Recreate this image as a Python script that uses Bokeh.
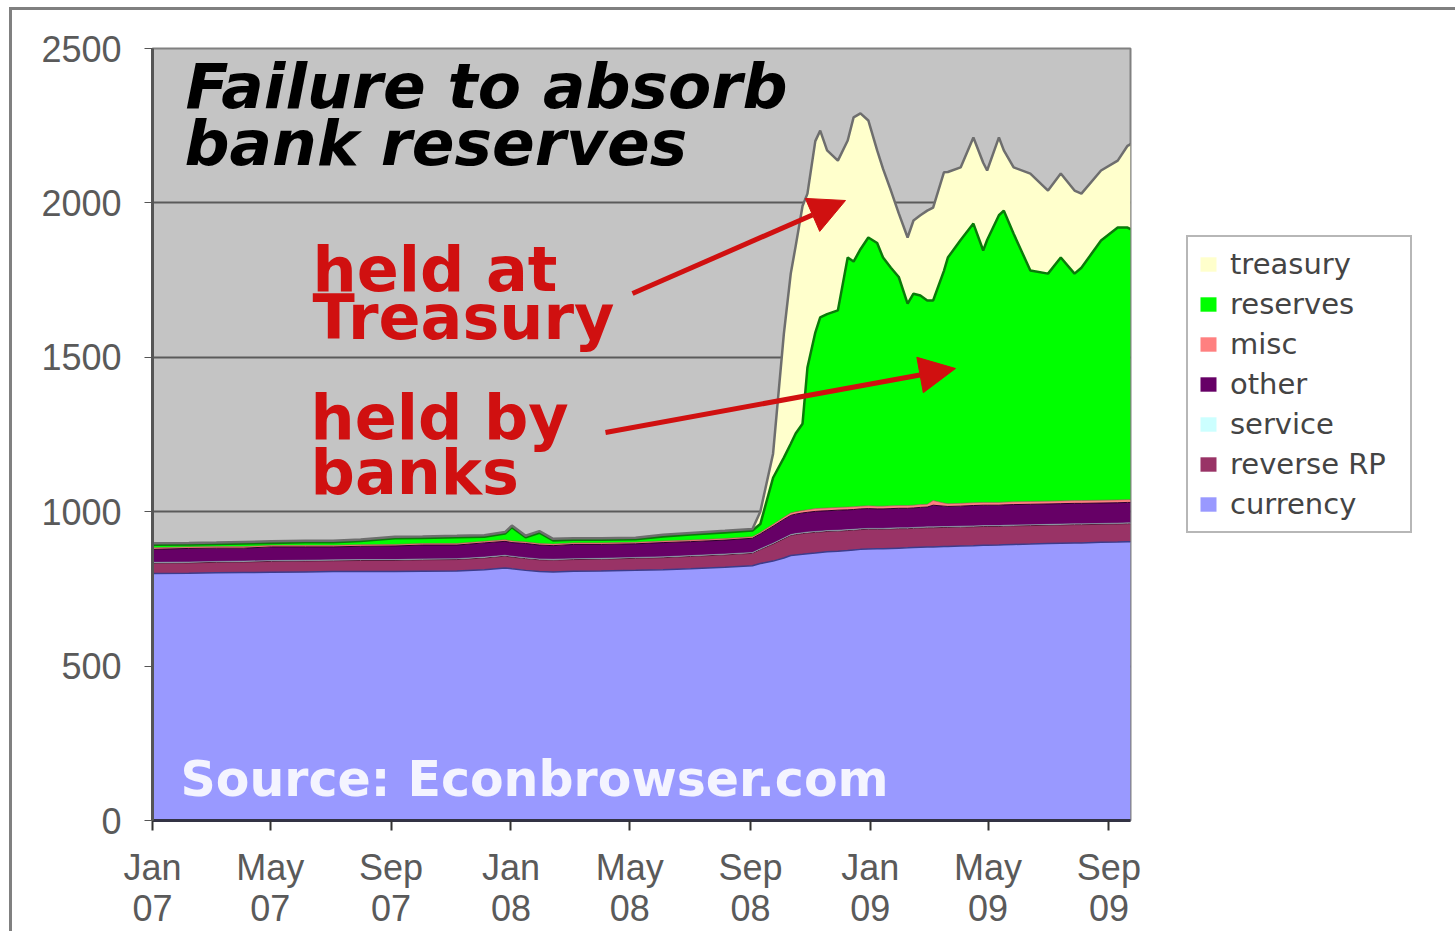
import pandas as pd
from bokeh.plotting import figure
from bokeh.models import (ColumnDataSource, Range1d, FixedTicker, Label, Arrow,
                          NormalHead, Legend, LegendItem)
from bokeh.transform import stack
from bokeh.embed import file_html
from bokeh.resources import INLINE

# ---------------- data (billions of $) ----------------
dates = [
    "2007-01-01", "2007-02-07", "2007-03-07", "2007-04-04", "2007-05-02", "2007-06-06",
    "2007-07-04", "2007-08-01", "2007-09-05", "2007-10-03", "2007-11-07", "2007-12-05",
    "2007-12-26", "2008-01-02", "2008-01-16", "2008-01-30", "2008-02-13", "2008-03-05",
    "2008-04-02", "2008-05-07", "2008-06-04", "2008-07-02", "2008-08-06", "2008-09-03",
    "2008-09-11", "2008-09-24", "2008-10-05", "2008-10-12", "2008-10-17", "2008-10-24",
    "2008-10-29", "2008-11-06", "2008-11-11", "2008-11-18", "2008-11-29", "2008-12-09",
    "2008-12-15", "2008-12-22", "2008-12-30", "2009-01-08", "2009-01-14", "2009-01-22",
    "2009-01-30", "2009-02-08", "2009-02-14", "2009-02-21", "2009-02-28", "2009-03-06",
    "2009-03-17", "2009-03-21", "2009-04-03", "2009-04-16", "2009-04-26", "2009-04-30",
    "2009-05-12", "2009-05-17", "2009-05-27", "2009-06-13", "2009-07-01", "2009-07-14",
    "2009-07-28", "2009-08-04", "2009-08-24", "2009-09-10", "2009-09-20", "2009-09-23",
]
currency = [
    800, 801, 802, 803, 804, 805, 806, 806, 806, 807, 808, 812,
    818, 815, 810, 806, 805, 807, 808, 810, 812, 815, 820, 825,
    832, 840, 850, 858, 860, 862, 864, 866, 868, 870, 872, 874,
    876, 878, 879, 880, 880, 881, 882, 883, 884, 885, 886, 886,
    887, 887, 889, 890, 891, 891, 892, 893, 894, 895, 897, 898,
    899, 899, 901, 902, 903, 903,
]
reverse_rp = [
    33, 33, 34, 34, 35, 35, 35, 36, 36, 37, 37, 38,
    38, 38, 38, 38, 38, 38, 38, 39, 39, 40, 40, 40,
    45, 55, 62, 65, 66, 67, 67, 67, 66, 66, 65, 65,
    64, 64, 64, 63, 63, 63, 63, 62, 62, 62, 62, 62,
    62, 62, 61, 61, 61, 61, 60, 60, 60, 60, 59, 59,
    59, 59, 58, 58, 58, 58,
]
service = [3] * 66
other = [
    42, 44, 43, 42, 44, 43, 42, 43, 44, 45, 44, 46,
    45, 44, 46, 45, 44, 46, 45, 44, 46, 45, 45, 46,
    48, 55, 60, 62, 63, 64, 64, 65, 65, 64, 65, 64,
    64, 64, 64, 63, 63, 63, 63, 63, 63, 64, 64, 70,
    66, 65, 65, 66, 66, 66, 66, 66, 66, 66, 66, 66,
    66, 66, 66, 66, 66, 66,
]
misc = [
    5, 5, 5, 5, 5, 5, 5, 5, 5, 5, 5, 5,
    5, 5, 5, 5, 5, 5, 5, 5, 5, 5, 5, 5,
    5, 6, 7, 8, 8, 8, 8, 9, 9, 9, 9, 9,
    9, 9, 9, 9, 9, 9, 9, 9, 9, 9, 9, 15,
    10, 9, 9, 9, 9, 9, 9, 9, 9, 9, 9, 9,
    9, 9, 9, 9, 9, 9,
]
reserves = [
    10, 8, 8, 10, 8, 10, 10, 12, 20, 18, 20, 15,
    20, 45, 15, 35, 12, 10, 10, 10, 15, 18, 20, 20,
    27, 151, 193, 224, 253, 281, 461, 570, 618, 628, 638, 808,
    794, 832, 869, 852, 805, 771, 740, 654, 685, 677, 660, 648,
    752, 797, 853, 904, 816, 850, 930, 944, 868, 748, 737, 788,
    735, 754, 841, 882, 881, 876,
]
treasury = [
    5, 5, 5, 5, 5, 5, 5, 5, 5, 5, 5, 5,
    5, 5, 5, 5, 5, 5, 5, 5, 5, 5, 5, 5,
    40, 78, 402, 551, 607, 705, 563, 620, 605, 530, 485, 379,
    467, 440, 379, 300, 287, 250, 206, 214, 237, 260, 291, 301,
    319, 277, 235, 279, 284, 225, 252, 195, 215, 314, 269, 272,
    269, 240, 227, 217, 265, 275,
]

layers = ["currency", "reverse_rp", "service", "other", "misc", "reserves", "treasury"]
legend_names = ["currency", "reverse RP", "service", "other", "misc", "reserves", "treasury"]
fill_colors = ["#9999ff", "#993366", "#ccffff", "#660066", "#ff8080", "#00ff00", "#ffffcc"]
edge_colors = ["#3c3c8c", "#5a1a3a", "#7aa0a0", "#2a002a", "#a05050", "#0a7a0a", "#6e6e6e"]
edge_widths = [1.5, 1, 0.6, 1, 0.6, 2.5, 2.5]

tick_dates = ["2007-01-01", "2007-05-01", "2007-09-01", "2008-01-01", "2008-05-01",
              "2008-09-01", "2009-01-01", "2009-05-01", "2009-09-01"]
tick_labels = ["Jan\n07", "May\n07", "Sep\n07", "Jan\n08", "May\n08",
               "Sep\n08", "Jan\n09", "May\n09", "Sep\n09"]
y_ticks = [0, 500, 1000, 1500, 2000, 2500]

# ---------------- figure ----------------
src = ColumnDataSource(dict(
    date=pd.to_datetime(dates), currency=currency, reverse_rp=reverse_rp, service=service,
    other=other, misc=misc, reserves=reserves, treasury=treasury))

p = figure(frame_width=978, frame_height=772, x_axis_type="datetime",
           x_range=Range1d(pd.Timestamp("2007-01-01"), pd.Timestamp("2009-09-23")),
           y_range=Range1d(0, 2500),
           output_backend="svg", toolbar_location=None,
           min_border_left=140, min_border_top=38, min_border_right=325, min_border_bottom=105,
           background_fill_color="#c4c4c4", border_fill_color="white")
p.styles = {"margin-left": "9px", "margin-top": "7px",
            "border-left": "3px solid #808080", "border-top": "3px solid #808080"}

areas = p.varea_stack(layers, x="date", color=fill_colors, source=src)
for i in range(len(layers)):
    p.line(x="date", y=stack(*layers[:i + 1]), source=src,
           line_color=edge_colors[i], line_width=edge_widths[i])

p.outline_line_color = "#808080"
p.outline_line_width = 2
p.xgrid.grid_line_color = None
p.ygrid.ticker = FixedTicker(ticks=y_ticks)
p.ygrid.grid_line_color = "#5a5a5a"
p.ygrid.grid_line_width = 2

tick_ms = [pd.Timestamp(d).value / 1e6 for d in tick_dates]
xa = p.xaxis[0]
xa.ticker = FixedTicker(ticks=tick_ms)
xa.major_label_overrides = dict(zip(tick_ms, tick_labels))
xa.axis_line_color = "#333344"
xa.axis_line_width = 3
xa.major_tick_out = 10
xa.major_tick_in = 0
xa.major_tick_line_color = "#333333"
xa.major_tick_line_width = 2
xa.minor_tick_line_color = None
xa.major_label_text_font = "Liberation Sans"
xa.major_label_text_font_size = "36px"
xa.major_label_text_line_height = 1.0
xa.major_label_text_color = "#5a5a5a"
xa.major_label_standoff = 16

ya = p.yaxis[0]
ya.ticker = FixedTicker(ticks=y_ticks)
ya.axis_line_color = "#555555"
ya.axis_line_width = 3
ya.major_tick_out = 8
ya.major_tick_in = 0
ya.major_tick_line_color = "#555555"
ya.minor_tick_line_color = None
ya.major_label_text_font = "Liberation Sans"
ya.major_label_text_font_size = "36px"
ya.major_label_text_color = "#5a5a5a"
ya.major_label_standoff = 23

# ---------------- annotations ----------------
def add_label(text, x, y, size, color, style="bold", font="DejaVu Sans"):
    p.add_layout(Label(x=x, y=y, x_units="screen", y_units="screen", text=text,
                       text_font=font, text_font_size=size, text_font_style=style,
                       text_color=color, text_baseline="alphabetic", text_align="left"))

add_label("Failure to absorb", 33, 734, "63px", "black", "bold italic")
add_label("bank reserves", 32, 677, "63px", "black", "bold italic")
red = "#d01010"
add_label("held at", 160, 551, "62px", red)
add_label("Treasury", 160, 503, "62px", red)
add_label("held by", 158, 403, "62px", red)
add_label("banks", 158, 348, "62px", red)
add_label("Source: Econbrowser.com", 28, 41, "49px", "#f4f4ff")

for (x0, y0, x1, y1) in [(480, 527, 693, 620), (453, 388, 803, 452)]:
    p.add_layout(Arrow(x_start=x0, y_start=y0, x_end=x1, y_end=y1,
                       start_units="screen", end_units="screen",
                       line_color=red, line_width=5,
                       end=NormalHead(size=36, fill_color=red, line_color=red)))

# ---------------- legend ----------------
items = [LegendItem(label=legend_names[i], renderers=[areas[i]])
         for i in reversed(range(len(layers)))]
legend = Legend(items=items, location=(56, 287),
                label_text_font="DejaVu Sans", label_text_font_size="29px",
                label_text_color="#444444", glyph_width=20, glyph_height=18,
                label_height=34, label_width=170, spacing=6, padding=10, margin=0,
                label_standoff=12,
                border_line_color="#707070", border_line_width=2.5,
                background_fill_color="white")
p.add_layout(legend, "right")

open("out.html", "w").write(file_html(p, INLINE))
